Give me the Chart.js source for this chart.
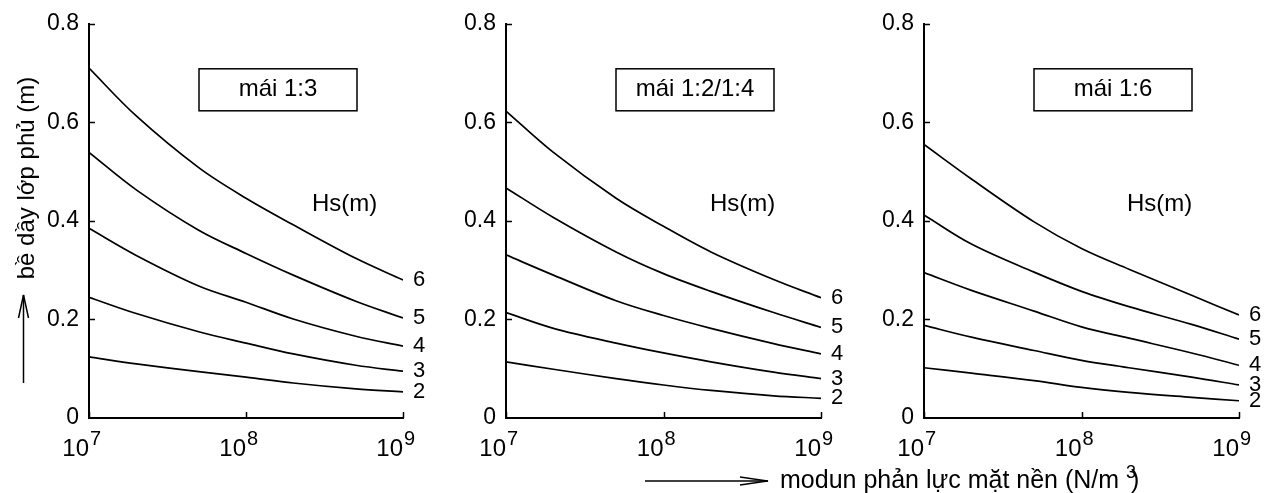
<!DOCTYPE html>
<html>
<head>
<meta charset="utf-8">
<title>bề dầy lớp phủ</title>
<script src="https://cdn.jsdelivr.net/npm/chart.js@4.4.1/dist/chart.umd.min.js"></script>
<style>
  html, body { margin: 0; padding: 0; background: #fff; }
  #page { position: relative; width: 1266px; height: 493px; overflow: hidden; font-family: "Liberation Sans", Arial, sans-serif; color: #000; }
  #page canvas { position: absolute; top: 0; }
  #arrows { position: absolute; left: 0; top: 0; pointer-events: none; }
  #xTitle { position: absolute; left: 780px; top: 465px; font-size: 25px; line-height: 28px; white-space: nowrap; }
  #xTitle .sup { font-size: 18px; position: relative; top: -10px; }
</style>
</head>
<body>
<div id="page">
  <canvas id="c1" width="445" height="493" style="left:0px"></canvas>
  <canvas id="c2" width="445" height="493" style="left:420px"></canvas>
  <canvas id="c3" width="426" height="493" style="left:840px"></canvas>
  <svg id="arrows" width="1266" height="493">
    <g stroke="#000" stroke-width="1.5" fill="none">
      <line x1="23.5" y1="383" x2="23.5" y2="295"/>
      <polyline points="18.5,318 23.5,295 28.5,318"/>
      <line x1="645" y1="481" x2="768" y2="481"/>
      <polyline points="740,477 768,481 740,485"/>
    </g>
  </svg>
  <div id="xTitle">modun phản lực mặt nền (N/m <span class="sup">3</span><span style="margin-left:-5px">)</span></div>
</div>

<script>
// Data
const modulus = [1e7, 2e7, 5e7, 1e8, 2e8, 5e8, 1e9];
const hsNames = ["2", "3", "4", "5", "6"];
const xTickValues = [1e7, 1e8, 1e9];
const yTickValues = [0, 0.2, 0.4, 0.6, 0.8];
const panelTitles = ["mái 1:3", "mái 1:2/1:4", "mái 1:6"];

// rows: Hs = 2, 3, 4, 5, 6
const mai13 = [
  [0.124, 0.110, 0.094, 0.083, 0.071, 0.059, 0.053],
  [0.245, 0.212, 0.175, 0.152, 0.130, 0.107, 0.095],
  [0.385, 0.330, 0.268, 0.235, 0.201, 0.166, 0.146],
  [0.539, 0.463, 0.381, 0.334, 0.290, 0.237, 0.203],
  [0.710, 0.613, 0.508, 0.446, 0.392, 0.324, 0.280]
];
const mai24 = [
  [0.114, 0.099, 0.080, 0.067, 0.056, 0.045, 0.040],
  [0.214, 0.182, 0.152, 0.132, 0.114, 0.093, 0.080],
  [0.331, 0.290, 0.238, 0.208, 0.182, 0.151, 0.130],
  [0.467, 0.407, 0.337, 0.293, 0.257, 0.214, 0.184],
  [0.623, 0.539, 0.446, 0.389, 0.337, 0.281, 0.244]
];
const mai16 = [
  [0.102, 0.091, 0.076, 0.062, 0.052, 0.042, 0.035],
  [0.188, 0.164, 0.137, 0.117, 0.102, 0.083, 0.067],
  [0.295, 0.259, 0.217, 0.185, 0.162, 0.132, 0.107],
  [0.412, 0.353, 0.296, 0.257, 0.226, 0.190, 0.160],
  [0.555, 0.485, 0.398, 0.344, 0.302, 0.249, 0.209]
];

const FONT = '"Liberation Sans", Arial, sans-serif';
Chart.defaults.font.family = FONT;
Chart.defaults.font.size = 23;
Chart.defaults.color = "#000";

// layout of the three panels (page pixels)
const panels = [
  { id: "c1", rows: mai13, canvasLeft: 0,   width: 445, axisLeft: 89,  axisRight: 403,  hsDx: 223, yTitle: true },
  { id: "c2", rows: mai24, canvasLeft: 420, width: 445, axisLeft: 506, axisRight: 821,  hsDx: 204, yTitle: false },
  { id: "c3", rows: mai16, canvasLeft: 840, width: 426, axisLeft: 924, axisRight: 1239, hsDx: 203, yTitle: false }
];

// ticks inside the axes, 10^n labels, boxed title, Hs(m), curve numbers
const decor = {
  id: "decor",
  afterDraw(chart, args, opts) {
    const ctx = chart.ctx;
    const xs = chart.scales.x;
    const ys = chart.scales.y;
    const area = chart.chartArea;
    ctx.save();
    ctx.strokeStyle = "#000";
    ctx.fillStyle = "#000";

    ctx.lineWidth = 1.5;
    ctx.beginPath();
    yTickValues.forEach(v => {
      if (v === 0) return;
      const y = Math.round(ys.getPixelForValue(v)) + 0.5;
      ctx.moveTo(area.left, y);
      ctx.lineTo(area.left + 6, y);
    });
    xTickValues.forEach(v => {
      const x = Math.round(xs.getPixelForValue(v)) + 0.5;
      ctx.moveTo(x, area.bottom);
      ctx.lineTo(x, area.bottom - 6);
    });
    ctx.stroke();

    ctx.textBaseline = "alphabetic";
    xTickValues.forEach(v => {
      const x = xs.getPixelForValue(v);
      ctx.font = "24px " + FONT;
      ctx.textAlign = "right";
      ctx.fillText("10", x, area.bottom + 38);
      ctx.font = "20px " + FONT;
      ctx.textAlign = "left";
      ctx.fillText(String(Math.round(Math.log10(v))), x + 1, area.bottom + 27);
    });

    // boxed title
    const bx = area.left + 110, by = area.top + 45, bw = 158, bh = 42;
    ctx.lineWidth = 1.5;
    ctx.strokeRect(bx, by, bw, bh);
    ctx.font = "24px " + FONT;
    ctx.textAlign = "center";
    ctx.textBaseline = "middle";
    ctx.fillText(opts.title, bx + bw / 2, by + bh / 2);

    ctx.textAlign = "left";
    ctx.fillText("Hs(m)", area.left + opts.hsDx, area.top + 181);

    // curve numbers at the right end of each curve
    ctx.font = "22px " + FONT;
    chart.data.datasets.forEach(ds => {
      const last = ds.data[ds.data.length - 1];
      const x = xs.getPixelForValue(last.x) + 10;
      const y = ys.getPixelForValue(last.y);
      ctx.fillText(ds.label, x, y);
    });

    if (opts.yTitle) {
      ctx.translate(34, 178);
      ctx.rotate(-Math.PI / 2);
      ctx.textAlign = "center";
      ctx.textBaseline = "alphabetic";
      ctx.font = "24px " + FONT;
      ctx.fillText("bề dầy lớp phủ (m)", 0, 0);
    }
    ctx.restore();
  }
};

panels.forEach((p, i) => {
  const datasets = p.rows.map((row, k) => ({
    label: hsNames[k],
    data: modulus.map((m, j) => ({ x: m, y: row[j] })),
    borderColor: "#000",
    borderWidth: 1.7,
    pointRadius: 0,
    fill: false,
    tension: 0.35
  }));

  new Chart(document.getElementById(p.id), {
    type: "line",
    data: { datasets },
    plugins: [decor],
    options: {
      responsive: false,
      animation: false,
      layout: {
        padding: { left: 0, top: 19, right: p.canvasLeft + p.width - p.axisRight, bottom: 0 }
      },
      plugins: {
        legend: { display: false },
        tooltip: { enabled: false },
        decor: { title: panelTitles[i], hsDx: p.hsDx, yTitle: p.yTitle }
      },
      scales: {
        x: {
          type: "logarithmic",
          min: 1e7,
          max: 1e9,
          grid: { display: false, drawTicks: false },
          border: { display: true, color: "#000", width: 2 },
          ticks: { display: false },
          afterFit: s => { s.height = 75; }
        },
        y: {
          type: "linear",
          min: 0,
          max: 0.8,
          grid: { display: false, drawTicks: false },
          border: { display: true, color: "#000", width: 2 },
          ticks: {
            padding: 10,
            font: { size: 23 },
            callback: v => (v === 0 ? "0" : v.toFixed(1))
          },
          afterBuildTicks: s => { s.ticks = yTickValues.map(v => ({ value: v })); },
          afterFit: s => { s.width = p.axisLeft - p.canvasLeft; }
        }
      }
    }
  });
});
</script>
</body>
</html>
